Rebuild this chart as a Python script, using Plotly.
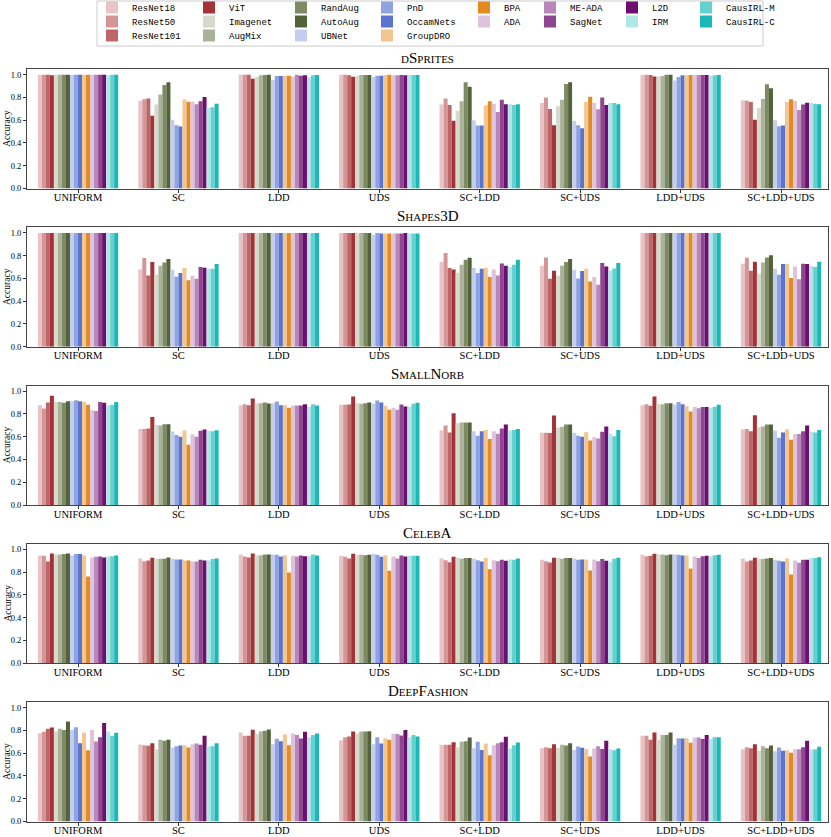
"""Accuracy per shift scenario for 20 methods on five datasets - Plotly."""

import plotly.graph_objects as go

methods = [
    "ResNet18", "ResNet50", "ResNet101", "ViT", "Imagenet", "AugMix",
    "RandAug", "AutoAug", "UBNet", "PnD", "OccamNets", "GroupDRO",
    "BPA", "ADA", "ME-ADA", "SagNet", "L2D", "IRM", "CausIRL-M", "CausIRL-C",
]
colors = [
    "#e8c4c6", "#d49597", "#bd6667", "#a33336", "#d6d9cc", "#aab39a",
    "#7d8a63", "#54623a", "#c5cdef", "#8fa3e0", "#5a74d0", "#f2c68e",
    "#e38a22", "#dec3dc", "#b886b8", "#8f4690", "#6e0e6f", "#b1e6e6",
    "#66cfcf", "#1bb8b8",
]
conditions = ["UNIFORM", "SC", "LDD", "UDS", "SC+LDD", "SC+UDS", "LDD+UDS", "SC+LDD+UDS"]

# one row per condition, one value per method
dsprites = [
    [1.0, 1.0, 1.0, 0.995, 1.0, 1.0, 1.0, 1.0, 1.0, 1.0, 1.0, 1.0, 1.0, 1.0, 1.0, 1.0, 1.0, 0.995, 1.0, 1.0],
    [0.77, 0.784, 0.79, 0.64, 0.737, 0.825, 0.909, 0.933, 0.605, 0.556, 0.544, 0.781, 0.763, 0.763, 0.74, 0.766, 0.804, 0.71, 0.713, 0.745],
    [1.0, 1.0, 1.0, 0.965, 0.98, 0.994, 0.998, 1.0, 0.956, 0.988, 0.988, 0.99, 0.99, 0.985, 1.0, 0.99, 0.995, 0.977, 0.995, 0.997],
    [1.0, 1.0, 0.995, 0.983, 0.99, 0.997, 0.997, 0.997, 0.98, 0.99, 0.99, 0.997, 0.999, 0.995, 0.995, 0.998, 0.995, 0.998, 0.998, 0.998],
    [0.737, 0.79, 0.734, 0.596, 0.684, 0.766, 0.933, 0.895, 0.6, 0.553, 0.553, 0.731, 0.766, 0.745, 0.673, 0.78, 0.74, 0.74, 0.734, 0.74],
    [0.751, 0.80, 0.699, 0.556, 0.722, 0.78, 0.918, 0.933, 0.596, 0.556, 0.529, 0.76, 0.807, 0.751, 0.696, 0.80, 0.734, 0.754, 0.751, 0.74],
    [0.997, 1.0, 0.997, 0.985, 0.985, 0.988, 1.0, 1.0, 0.95, 0.98, 0.994, 0.994, 0.997, 0.997, 0.997, 0.997, 0.997, 0.99, 0.994, 0.997],
    [0.775, 0.772, 0.76, 0.605, 0.708, 0.787, 0.915, 0.88, 0.6, 0.547, 0.553, 0.76, 0.784, 0.769, 0.69, 0.737, 0.754, 0.754, 0.745, 0.74],
]
shapes3d = [
    [1.0] * 20,
    [0.679, 0.779, 0.626, 0.744, 0.635, 0.712, 0.741, 0.771, 0.676, 0.615, 0.647, 0.691, 0.585, 0.624, 0.597, 0.70, 0.694, 0.685, 0.685, 0.726],
    [1.0] * 20,
    [1.0, 1.0, 1.0, 1.0, 1.0, 1.0, 1.0, 1.0, 0.985, 1.0, 0.995, 0.995, 0.995, 0.995, 0.995, 0.995, 1.0, 0.995, 0.995, 0.995],
    [0.744, 0.824, 0.691, 0.679, 0.65, 0.72, 0.765, 0.782, 0.691, 0.647, 0.685, 0.694, 0.612, 0.679, 0.626, 0.732, 0.712, 0.70, 0.72, 0.765],
    [0.712, 0.785, 0.597, 0.668, 0.624, 0.712, 0.744, 0.771, 0.676, 0.60, 0.665, 0.685, 0.574, 0.612, 0.544, 0.735, 0.706, 0.671, 0.688, 0.735],
    [1.0] * 20,
    [0.729, 0.782, 0.668, 0.747, 0.644, 0.741, 0.785, 0.803, 0.685, 0.632, 0.726, 0.726, 0.603, 0.706, 0.594, 0.729, 0.726, 0.712, 0.70, 0.747],
]
smallnorb = [
    [0.877, 0.848, 0.90, 0.959, 0.904, 0.904, 0.898, 0.912, 0.912, 0.921, 0.912, 0.904, 0.88, 0.833, 0.827, 0.904, 0.898, 0.874, 0.88, 0.904],
    [0.667, 0.668, 0.673, 0.774, 0.704, 0.698, 0.71, 0.71, 0.646, 0.614, 0.60, 0.654, 0.529, 0.622, 0.60, 0.652, 0.663, 0.652, 0.649, 0.657],
    [0.877, 0.886, 0.877, 0.936, 0.895, 0.895, 0.90, 0.892, 0.895, 0.909, 0.877, 0.877, 0.854, 0.874, 0.874, 0.874, 0.886, 0.863, 0.886, 0.874],
    [0.88, 0.88, 0.883, 0.953, 0.895, 0.889, 0.895, 0.90, 0.889, 0.918, 0.90, 0.871, 0.836, 0.854, 0.836, 0.883, 0.865, 0.863, 0.889, 0.898],
    [0.655, 0.699, 0.637, 0.807, 0.719, 0.725, 0.725, 0.725, 0.649, 0.608, 0.649, 0.658, 0.58, 0.649, 0.626, 0.673, 0.708, 0.655, 0.658, 0.667],
    [0.635, 0.635, 0.632, 0.787, 0.681, 0.687, 0.708, 0.708, 0.635, 0.608, 0.599, 0.64, 0.567, 0.596, 0.585, 0.643, 0.69, 0.626, 0.605, 0.658],
    [0.877, 0.886, 0.871, 0.953, 0.889, 0.886, 0.895, 0.895, 0.883, 0.906, 0.886, 0.868, 0.822, 0.86, 0.851, 0.86, 0.86, 0.854, 0.863, 0.88],
    [0.664, 0.667, 0.649, 0.789, 0.684, 0.69, 0.708, 0.708, 0.655, 0.591, 0.637, 0.664, 0.573, 0.623, 0.623, 0.649, 0.699, 0.643, 0.637, 0.658],
]
celeba = [
    [0.947, 0.944, 0.894, 0.965, 0.956, 0.956, 0.959, 0.965, 0.947, 0.959, 0.959, 0.947, 0.762, 0.929, 0.935, 0.938, 0.929, 0.938, 0.941, 0.947],
    [0.921, 0.897, 0.903, 0.926, 0.918, 0.918, 0.918, 0.929, 0.918, 0.912, 0.912, 0.903, 0.903, 0.894, 0.894, 0.909, 0.903, 0.903, 0.915, 0.921],
    [0.956, 0.938, 0.929, 0.965, 0.95, 0.95, 0.956, 0.956, 0.956, 0.953, 0.938, 0.95, 0.797, 0.944, 0.938, 0.947, 0.941, 0.941, 0.956, 0.947],
    [0.944, 0.935, 0.921, 0.962, 0.953, 0.953, 0.95, 0.953, 0.962, 0.953, 0.935, 0.95, 0.812, 0.938, 0.921, 0.947, 0.938, 0.944, 0.944, 0.944],
    [0.921, 0.906, 0.888, 0.935, 0.926, 0.918, 0.924, 0.924, 0.918, 0.906, 0.894, 0.924, 0.826, 0.906, 0.897, 0.909, 0.90, 0.912, 0.909, 0.921],
    [0.909, 0.897, 0.885, 0.926, 0.926, 0.918, 0.924, 0.924, 0.918, 0.909, 0.912, 0.912, 0.815, 0.912, 0.897, 0.915, 0.90, 0.891, 0.918, 0.926],
    [0.953, 0.941, 0.944, 0.962, 0.956, 0.956, 0.95, 0.956, 0.956, 0.953, 0.947, 0.947, 0.832, 0.938, 0.924, 0.941, 0.944, 0.938, 0.95, 0.953],
    [0.921, 0.894, 0.903, 0.926, 0.918, 0.915, 0.921, 0.924, 0.909, 0.90, 0.894, 0.921, 0.779, 0.903, 0.882, 0.909, 0.909, 0.924, 0.924, 0.932],
]
deepfashion = [
    [0.776, 0.788, 0.815, 0.826, 0.791, 0.815, 0.803, 0.879, 0.806, 0.829, 0.688, 0.779, 0.626, 0.803, 0.703, 0.741, 0.865, 0.791, 0.753, 0.779],
    [0.676, 0.671, 0.665, 0.688, 0.635, 0.718, 0.709, 0.718, 0.647, 0.662, 0.668, 0.671, 0.65, 0.679, 0.685, 0.674, 0.753, 0.662, 0.662, 0.688],
    [0.782, 0.753, 0.753, 0.806, 0.768, 0.791, 0.797, 0.809, 0.679, 0.726, 0.706, 0.765, 0.671, 0.774, 0.759, 0.729, 0.788, 0.741, 0.759, 0.774],
    [0.715, 0.741, 0.747, 0.791, 0.774, 0.791, 0.791, 0.794, 0.679, 0.741, 0.685, 0.732, 0.718, 0.771, 0.768, 0.756, 0.803, 0.741, 0.759, 0.747],
    [0.674, 0.674, 0.674, 0.697, 0.653, 0.70, 0.706, 0.738, 0.644, 0.70, 0.629, 0.685, 0.582, 0.671, 0.688, 0.697, 0.744, 0.641, 0.671, 0.694],
    [0.644, 0.653, 0.644, 0.679, 0.647, 0.674, 0.668, 0.688, 0.629, 0.659, 0.647, 0.638, 0.571, 0.641, 0.662, 0.638, 0.709, 0.635, 0.626, 0.641],
    [0.753, 0.753, 0.718, 0.782, 0.718, 0.759, 0.759, 0.782, 0.674, 0.732, 0.729, 0.732, 0.691, 0.738, 0.738, 0.724, 0.759, 0.724, 0.741, 0.741],
    [0.635, 0.653, 0.644, 0.679, 0.621, 0.662, 0.644, 0.668, 0.618, 0.65, 0.621, 0.626, 0.603, 0.635, 0.635, 0.653, 0.709, 0.632, 0.635, 0.656],
]

datasets = [dsprites, shapes3d, smallnorb, celeba, deepfashion]
# small-caps titles: (text, is_small) pieces
titles = [
    [("D", True), ("S", False), ("PRITES", True)],
    [("S", False), ("HAPES", True), ("3D", False)],
    [("S", False), ("MALL", True), ("N", False), ("ORB", True)],
    [("C", False), ("ELEB", True), ("A", False)],
    [("D", False), ("EEP", True), ("F", False), ("ASHION", True)],
]

W, H = 831, 837
SERIF = "Liberation Serif"
MONO = "Liberation Mono"
x_left, x_right = 27, 828
panel_top0, panel_step, panel_h = 69, 158.25, 119.5

# legend layout: column swatch centres (px) and row centres (px)
legend_cols = [[0, 1, 2], [3, 4, 5], [6, 7, 8], [9, 10, 11], [12, 13], [14, 15], [16, 17], [18, 19]]
col_x = [112, 209, 301, 387, 484, 550, 632, 706]
row_y = [7.5, 21.5, 35.5]

legend_of = {}
legend_pos = {}
for ci, col in enumerate(legend_cols):
    for ri, m in enumerate(col):
        lid = "legend" if m == 0 else f"legend{m + 1}"
        legend_of[m] = lid
        legend_pos[lid] = (col_x[ci], row_y[ri])

fig = go.Figure()
xs = list(range(len(conditions)))
for d, data in enumerate(datasets):
    ax = "" if d == 0 else str(d + 1)
    for m, name in enumerate(methods):
        fig.add_trace(go.Bar(
            x=xs,
            y=[row[m] for row in data],
            name=name,
            marker=dict(color=colors[m], line=dict(width=0)),
            xaxis="x" + ax, yaxis="y" + ax,
            legend=legend_of[m], legendgroup=name,
            showlegend=(d == 0),
        ))

layout = dict(
    width=W, height=H,
    margin=dict(l=0, r=0, t=0, b=0, autoexpand=False),
    plot_bgcolor="white", paper_bgcolor="white",
    barmode="group", bargap=0.2, bargroupgap=0,
    font=dict(family=SERIF, color="black"),
    annotations=[], shapes=[],
)

for d in range(len(datasets)):
    ax = "" if d == 0 else str(d + 1)
    top = panel_top0 + panel_step * d
    bottom = top + panel_h
    layout["xaxis" + ax] = dict(
        domain=[x_left / W, x_right / W], anchor="y" + ax,
        range=[-0.508, 7.468], tickvals=xs, ticktext=conditions,
        ticks="outside", ticklen=3, tickwidth=0.8, tickcolor="#333",
        ticklabelstandoff=-4,
        showline=True, mirror=True, linecolor="#444", linewidth=1,
        showgrid=False, zeroline=False,
        tickfont=dict(family=SERIF, size=10.5, color="black"),
    )
    layout["yaxis" + ax] = dict(
        domain=[1 - bottom / H, 1 - top / H], anchor="x" + ax,
        range=[0, 1.05], tickvals=[0, 0.2, 0.4, 0.6, 0.8, 1.0], tickformat=".1f",
        ticks="outside", ticklen=3, tickwidth=0.8, tickcolor="#333",
        showline=True, mirror=True, linecolor="#444", linewidth=1,
        showgrid=False, zeroline=False,
        tickfont=dict(family=SERIF, size=8.5, color="black"),
    )
    text = "".join(
        f"<span style='font-size:11px'>{t}</span>" if small else t
        for t, small in titles[d]
    )
    layout["annotations"].append(dict(
        text=text, showarrow=False,
        xref="paper", yref="paper",
        x=(x_left + x_right) / 2 / W, y=1 - top / H,
        xanchor="center", yanchor="bottom", yshift=1,
        font=dict(family=SERIF, size=15, color="black"),
    ))
    # y axis label
    layout["annotations"].append(dict(
        text="Accuracy", showarrow=False, textangle=-90,
        xref="paper", yref="paper",
        x=7 / W, y=1 - (top + bottom) / 2 / H,
        xanchor="center", yanchor="middle",
        font=dict(family=SERIF, size=9.5, color="black"),
    ))

for lid, (cx, cy) in legend_pos.items():
    layout[lid] = dict(
        x=(cx - 20) / W, y=1 - cy / H, xref="container", yref="container",
        xanchor="left", yanchor="middle",
        bgcolor="rgba(0,0,0,0)", borderwidth=0,
        font=dict(family=MONO, size=9, color="black"),
        itemwidth=30,
    )

# frame round the legend entries
layout["shapes"].append(dict(
    type="rect", xref="paper", yref="paper",
    x0=97 / W, x1=763 / W, y0=1 - 46 / H, y1=1 - 1 / H,
    line=dict(color="#cccccc", width=1), layer="below",
))

fig.update_layout(**layout)
# the page body has a default 8px margin; drop it so the figure fills the window
fig.write_html(
    "out.html",
    config={"displayModeBar": False},
    post_script="document.body.style.margin='0';",
)
